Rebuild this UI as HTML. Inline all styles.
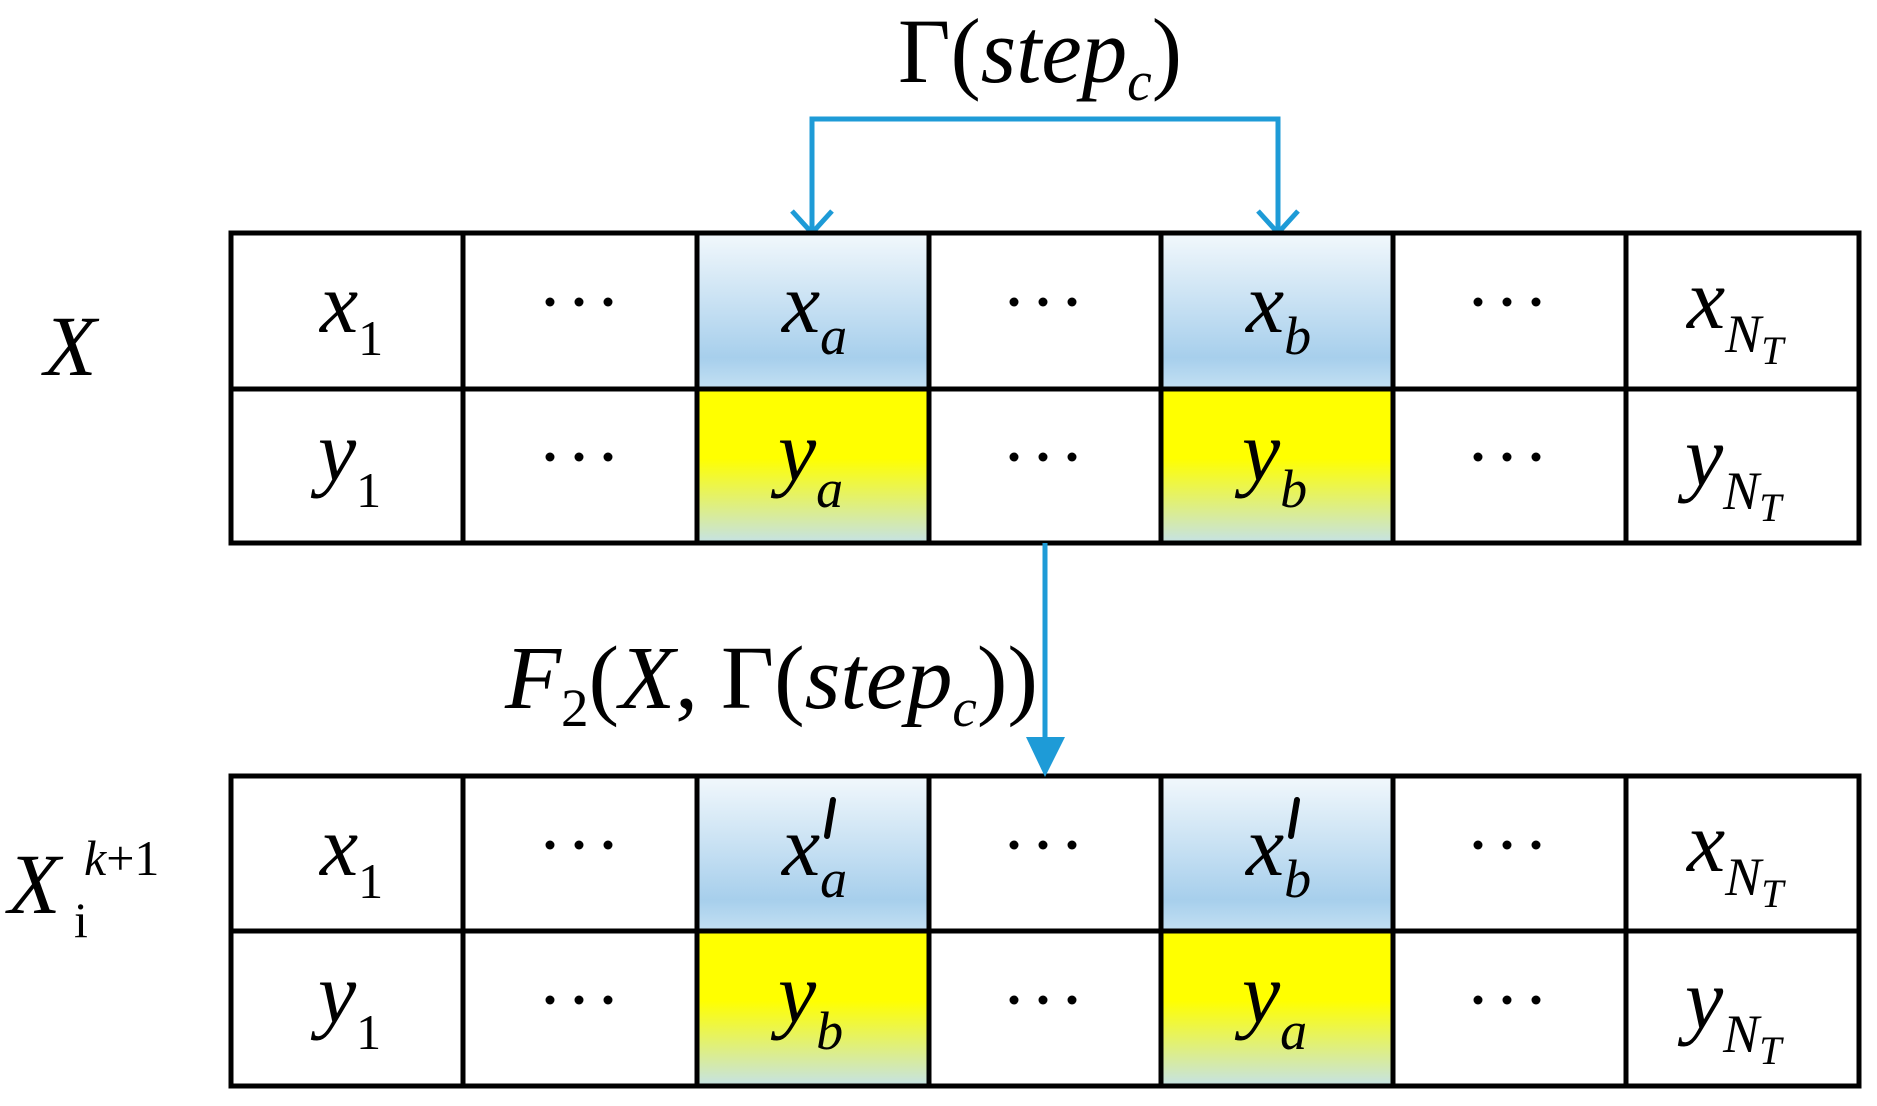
<!DOCTYPE html>
<html><head><meta charset="utf-8"><style>
html,body{margin:0;padding:0;background:#fff;}
svg{display:block;}
svg text{font-family:"Liberation Serif","Times New Roman",serif;fill:#000;}
.i{font-style:italic;}
</style></head><body>
<svg width="1877" height="1106" viewBox="0 0 1877 1106" xmlns="http://www.w3.org/2000/svg" font-family="Liberation Serif, serif">
<defs>
<linearGradient id="bl" x1="0" y1="0" x2="0" y2="1">
<stop offset="0" stop-color="#f2f8fc"/><stop offset="0.8" stop-color="#a7cfec"/><stop offset="1" stop-color="#c3e0f3"/></linearGradient>
<linearGradient id="ye" x1="0" y1="0" x2="0" y2="1">
<stop offset="0" stop-color="#ffff00"/><stop offset="0.45" stop-color="#ffff00"/><stop offset="1" stop-color="#c5e2e6"/></linearGradient>
<g id="d" fill="#000"><circle cx="0" cy="0" r="4.5"/><circle cx="29" cy="0" r="4.5"/><circle cx="58" cy="0" r="4.5"/></g>
</defs>

<text x="898" y="82" font-size="92" textLength="284" lengthAdjust="spacingAndGlyphs">Γ(<tspan class="i">step</tspan><tspan class="i" font-size="56" dy="18">c</tspan><tspan dy="-18">)</tspan></text>
<polyline points="812,233 812,119 1278,119 1278,233" fill="none" stroke="#1e9bd7" stroke-width="5"/>
<polyline points="792,211 812,233 832,211" fill="none" stroke="#1e9bd7" stroke-width="5"/>
<polyline points="1258,211 1278,233 1298,211" fill="none" stroke="#1e9bd7" stroke-width="5"/>

<rect x="697" y="233" width="232" height="156" fill="url(#bl)"/>
<rect x="1161" y="233" width="232" height="156" fill="url(#bl)"/>
<rect x="697" y="389" width="232" height="154" fill="url(#ye)"/>
<rect x="1161" y="389" width="232" height="154" fill="url(#ye)"/>
<rect x="697" y="776" width="232" height="155" fill="url(#bl)"/>
<rect x="1161" y="776" width="232" height="155" fill="url(#bl)"/>
<rect x="697" y="931" width="232" height="155" fill="url(#ye)"/>
<rect x="1161" y="931" width="232" height="155" fill="url(#ye)"/>

<g stroke="#000" stroke-width="5" fill="none">
<rect x="231" y="233" width="1628" height="310"/>
<line x1="231" y1="389" x2="1859" y2="389"/>
<rect x="231" y="776" width="1628" height="310"/>
<line x1="231" y1="931" x2="1859" y2="931"/>
<path d="M463 233V543M697 233V543M929 233V543M1161 233V543M1393 233V543M1626 233V543"/>
<path d="M463 776V1086M697 776V1086M929 776V1086M1161 776V1086M1393 776V1086M1626 776V1086"/>
</g>

<line x1="1045" y1="543" x2="1045" y2="745" stroke="#1e9bd7" stroke-width="5"/>
<polygon points="1026,737 1065,737 1045,777" fill="#1e9bd7"/>
<text x="505" y="708" font-size="90" textLength="533" lengthAdjust="spacingAndGlyphs"><tspan class="i">F</tspan><tspan font-size="54" dy="18">2</tspan><tspan dy="-18">(</tspan><tspan class="i">X</tspan>, Γ(<tspan class="i">step</tspan><tspan class="i" font-size="54" dy="18">c</tspan><tspan dy="-18">))</tspan></text>

<text x="44" y="375" font-size="86" class="i">X</text>
<text x="8" y="913" font-size="86" class="i">X</text>
<text x="84" y="875" font-size="50"><tspan class="i">k</tspan>+1</text>
<text x="74" y="937" font-size="50">i</text>

<use href="#d" x="550" y="302"/><use href="#d" x="1014" y="302"/><use href="#d" x="1478" y="302"/>
<use href="#d" x="550" y="457"/><use href="#d" x="1014" y="457"/><use href="#d" x="1478" y="457"/>
<use href="#d" x="550" y="845"/><use href="#d" x="1014" y="845"/><use href="#d" x="1478" y="845"/>
<use href="#d" x="550" y="1000"/><use href="#d" x="1014" y="1000"/><use href="#d" x="1478" y="1000"/>

<text x="320" y="332" font-size="86"><tspan class="i">x</tspan><tspan font-size="50" dy="23">1</tspan></text>
<text x="318" y="480" font-size="86"><tspan class="i">y</tspan><tspan font-size="50" dy="27">1</tspan></text>
<text x="782" y="332" font-size="86" class="i">x<tspan font-size="54" dy="22">a</tspan></text>
<text x="778" y="480" font-size="86" class="i">y<tspan font-size="54" dy="27">a</tspan></text>
<text x="1246" y="332" font-size="86" class="i">x<tspan font-size="54" dy="22">b</tspan></text>
<text x="1242" y="480" font-size="86" class="i">y<tspan font-size="54" dy="27">b</tspan></text>
<text x="1687" y="328" font-size="86" class="i">x<tspan font-size="54" dy="24">N</tspan><tspan font-size="40" dy="12">T</tspan></text>
<text x="1685" y="485" font-size="86" class="i">y<tspan font-size="54" dy="24">N</tspan><tspan font-size="40" dy="12">T</tspan></text>

<text x="320" y="875" font-size="86"><tspan class="i">x</tspan><tspan font-size="50" dy="23">1</tspan></text>
<text x="318" y="1022" font-size="86"><tspan class="i">y</tspan><tspan font-size="50" dy="27">1</tspan></text>
<text x="782" y="875" font-size="86" class="i">x<tspan font-size="54" dy="22">a</tspan></text>
<path d="M833 800 L827 836" stroke="#000" stroke-width="6" stroke-linecap="round"/>
<text x="778" y="1022" font-size="86" class="i">y<tspan font-size="54" dy="27">b</tspan></text>
<text x="1246" y="875" font-size="86" class="i">x<tspan font-size="54" dy="22">b</tspan></text>
<path d="M1297 800 L1291 836" stroke="#000" stroke-width="6" stroke-linecap="round"/>
<text x="1242" y="1022" font-size="86" class="i">y<tspan font-size="54" dy="27">a</tspan></text>
<text x="1687" y="871" font-size="86" class="i">x<tspan font-size="54" dy="24">N</tspan><tspan font-size="40" dy="12">T</tspan></text>
<text x="1685" y="1028" font-size="86" class="i">y<tspan font-size="54" dy="24">N</tspan><tspan font-size="40" dy="12">T</tspan></text>
</svg>
</body></html>
